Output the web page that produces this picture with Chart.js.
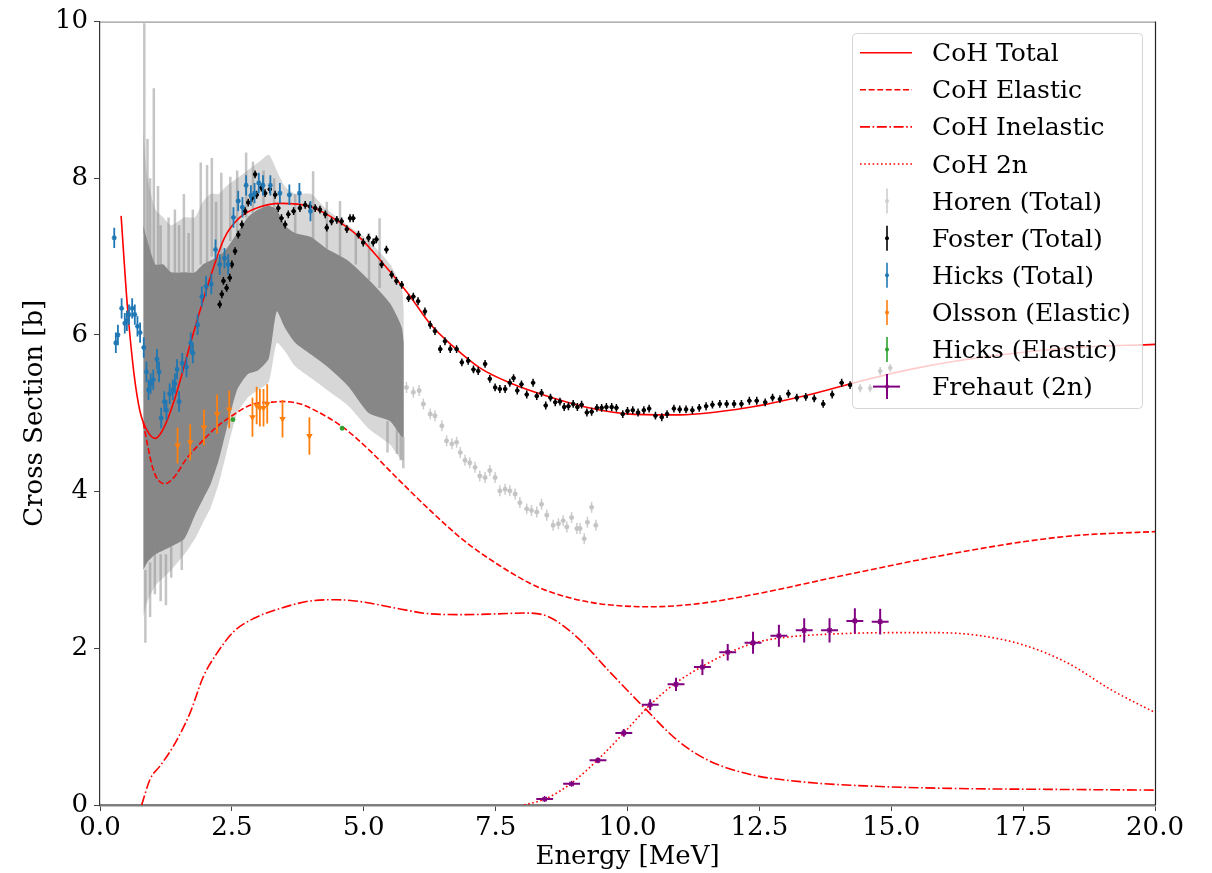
<!DOCTYPE html>
<html>
<head>
<meta charset="utf-8">
<script src="https://cdn.jsdelivr.net/npm/chart.js@4.4.1/dist/chart.umd.min.js"></script>
<style>
html, body { margin: 0; padding: 0; background: #fff; }
#wrap { position: relative; width: 1212px; height: 873px; }
#legend { position: absolute; left: 852px; top: 33px; }
</style>
</head>
<body>
<div id="wrap">
  <canvas id="xsChart"></canvas>
  <svg id="legend" width="291" height="376" xmlns="http://www.w3.org/2000/svg"></svg>
</div>
<script>
// CoH model curves (energy in MeV, cross section in b)
const cohTotalE = [0.40, 0.52, 0.64, 0.76, 0.91, 1.05, 1.2, 1.41, 1.76, 2.06, 2.36, 2.65, 3.01, 3.42, 3.98, 4.52, 4.93, 5.37, 5.85, 6.26, 6.7, 7.2, 7.8, 8.47, 9.2, 10.05, 11.0, 12.26, 13.52, 14.41, 15.5, 17.0, 18.5, 20.0];
const cohTotalXS = [7.52, 6.36, 5.53, 5.02, 4.76, 4.68, 4.80, 5.17, 6.0, 6.67, 7.24, 7.50, 7.63, 7.68, 7.64, 7.45, 7.24, 6.91, 6.52, 6.14, 5.85, 5.58, 5.38, 5.22, 5.08, 4.99, 4.98, 5.07, 5.25, 5.41, 5.58, 5.74, 5.84, 5.88];

const cohElasticE = [0.82, 0.9, 1.0, 1.1, 1.23, 1.4, 1.64, 1.96, 2.2, 2.46, 2.91, 3.2, 3.48, 3.8, 4.04, 4.61, 5.12, 5.62, 6.26, 6.89, 7.52, 8.15, 8.45, 9.27, 10.43, 11.34, 12.49, 13.81, 15.46, 16.5, 17.5, 18.5, 20.0];
const cohElasticXS = [4.88, 4.6, 4.3, 4.15, 4.10, 4.18, 4.42, 4.66, 4.82, 4.95, 5.12, 5.14, 5.15, 5.12, 5.05, 4.82, 4.52, 4.18, 3.76, 3.38, 3.08, 2.83, 2.74, 2.59, 2.53, 2.57, 2.70, 2.89, 3.12, 3.25, 3.36, 3.44, 3.49];

const cohInelE = [0.79, 0.95, 1.14, 1.39, 1.71, 1.96, 2.22, 2.53, 2.91, 3.42, 4.05, 4.49, 5.0, 5.63, 6.27, 6.9, 7.53, 8.04, 8.48, 9.03, 9.69, 10.35, 10.92, 11.5, 12.33, 13.4, 14.64, 16.29, 17.94, 20.0];
const cohInelXS = [0, 0.33, 0.50, 0.75, 1.18, 1.64, 1.94, 2.21, 2.38, 2.51, 2.61, 2.62, 2.59, 2.51, 2.44, 2.43, 2.44, 2.45, 2.41, 2.15, 1.68, 1.22, 0.84, 0.58, 0.39, 0.29, 0.24, 0.21, 0.20, 0.19];

const coh2nE = [8.04, 8.45, 8.94, 9.44, 9.93, 10.43, 10.92, 11.42, 11.91, 12.41, 12.99, 13.81, 15.05, 15.87, 16.70, 17.52, 18.35, 19.17, 20.0];
const coh2nXS = [0, 0.08, 0.28, 0.58, 0.92, 1.28, 1.56, 1.77, 1.94, 2.07, 2.14, 2.18, 2.20, 2.20, 2.16, 2.04, 1.81, 1.47, 1.18];

// Horen (Total): dense part given as a band, plus spikes and the sparse tail
const horenBandE = [0.82, 0.9, 1.05, 1.2, 1.35, 1.6, 1.8, 1.95, 2.1, 2.25, 2.4, 2.6, 2.8, 3.0, 3.2, 3.35, 3.5, 3.7, 4.0, 4.3, 4.7, 5.1, 5.5, 5.72, 5.76];
const horenCoreHi = [7.4, 7.2, 6.9, 6.9, 6.8, 6.8, 6.8, 6.9, 6.95, 7.0, 7.1, 7.3, 7.5, 7.6, 7.65, 7.6, 7.4, 7.3, 7.25, 7.1, 6.95, 6.7, 6.4, 6.1, 5.9];
const horenCoreLo = [3.0, 3.1, 3.2, 3.25, 3.3, 3.4, 3.7, 3.9, 4.1, 4.4, 4.8, 5.3, 5.5, 5.55, 5.7, 6.3, 6.1, 5.9, 5.75, 5.6, 5.35, 5.0, 4.9, 4.7, 4.7];
const horenOuterHi = [8.6, 8.0, 7.6, 7.5, 7.4, 7.5, 7.5, 7.7, 7.8, 7.8, 7.9, 8.0, 8.1, 8.2, 8.3, 8.1, 7.9, 7.8, 7.8, 7.6, 7.4, 7.2, 6.9, 6.6, 6.3];
const horenOuterLo = [2.4, 2.6, 2.8, 2.9, 3.0, 3.2, 3.4, 3.6, 3.8, 4.1, 4.5, 5.0, 5.2, 5.3, 5.4, 5.9, 5.8, 5.6, 5.45, 5.3, 5.1, 4.8, 4.6, 4.4, 4.4];

const horenSpikeE = [0.84, 0.86, 0.9, 0.95, 0.95, 1.02, 1.04, 1.1, 1.15, 1.15, 1.25, 1.3, 1.35, 1.42, 1.5, 1.55, 1.59, 1.68, 1.76, 1.91, 2.03, 2.12, 2.2, 2.3, 2.47, 2.6, 2.77, 2.9, 3.1, 3.3, 3.7, 4.04, 4.3, 4.55, 4.85, 5.1, 5.3, 5.45, 5.63, 5.7, 5.75];
const horenSpikeLo = [7.3, 2.07, 6.8, 6.9, 2.4, 6.8, 2.69, 6.8, 6.8, 2.6, 2.55, 6.8, 2.9, 6.7, 6.8, 3.0, 6.8, 6.8, 6.8, 6.9, 6.9, 7.0, 7.0, 7.0, 7.2, 7.3, 7.5, 7.5, 7.6, 7.5, 7.3, 7.2, 7.1, 7.0, 6.9, 6.7, 6.6, 4.5, 4.48, 4.4, 4.3];
const horenSpikeHi = [9.98, 3.0, 8.5, 8.0, 3.1, 9.15, 3.3, 7.9, 7.4, 3.2, 3.2, 7.5, 3.3, 7.6, 7.4, 3.4, 7.8, 7.3, 7.6, 8.2, 8.17, 8.26, 7.7, 8.07, 8.02, 8.1, 8.33, 8.21, 8.1, 8.0, 7.8, 8.09, 7.7, 7.71, 7.3, 7.3, 7.49, 4.9, 5.0, 5.0, 4.7];

const horenTailE = [5.81, 5.94, 6.05, 6.13, 6.26, 6.35, 6.48, 6.57, 6.67, 6.76, 6.83, 6.92, 7.01, 7.11, 7.20, 7.30, 7.39, 7.49, 7.58, 7.68, 7.77, 7.87, 7.96, 8.09, 8.18, 8.28, 8.37, 8.47, 8.59, 8.69, 8.78, 8.85, 8.94, 9.04, 9.10, 9.18, 9.24, 9.32, 9.40];
const horenTailXS = [5.33, 5.27, 5.29, 5.12, 4.99, 4.97, 4.84, 4.65, 4.61, 4.63, 4.50, 4.40, 4.37, 4.31, 4.20, 4.18, 4.27, 4.18, 4.01, 4.03, 4.01, 3.97, 3.86, 3.78, 3.76, 3.74, 3.84, 3.70, 3.57, 3.59, 3.63, 3.55, 3.67, 3.53, 3.53, 3.40, 3.61, 3.80, 3.57];

// Foster (Total)
const fosterE = [2.27, 2.31, 2.34, 2.40, 2.46, 2.50, 2.56, 2.62, 2.69, 2.75, 2.81, 2.88, 2.94, 2.97, 3.06, 3.13, 3.22, 3.32, 3.38, 3.44, 3.51, 3.57, 3.67, 3.79, 3.89, 3.98, 4.08, 4.17, 4.27, 4.30, 4.39, 4.49, 4.58, 4.68, 4.74, 4.80, 4.90, 4.99, 5.09, 5.18, 5.24, 5.34, 5.43, 5.53, 5.62, 5.72, 5.85, 5.94, 6.03, 6.16, 6.26, 6.35, 6.45, 6.54, 6.64, 6.76, 6.86, 6.98, 7.08, 7.17, 7.30, 7.39, 7.49, 7.58, 7.68, 7.77, 7.84, 7.91, 7.99, 8.09, 8.21, 8.28, 8.37, 8.45, 8.54, 8.63, 8.72, 8.80, 8.88, 8.97, 9.05, 9.13, 9.23, 9.32, 9.42, 9.51, 9.60, 9.70, 9.79, 9.91, 10.00, 10.10, 10.20, 10.31, 10.41, 10.53, 10.65, 10.75, 10.88, 10.99, 11.11, 11.23, 11.36, 11.49, 11.61, 11.75, 11.88, 12.02, 12.16, 12.31, 12.45, 12.61, 12.75, 12.89, 13.05, 13.21, 13.38, 13.54, 13.71, 13.88, 14.06, 14.22, 14.41, 14.60, 14.79, 14.98];
const fosterXS = [6.39, 6.52, 6.69, 6.60, 6.73, 6.90, 7.07, 7.28, 7.41, 7.58, 7.69, 7.75, 8.05, 7.79, 7.88, 7.81, 7.86, 7.79, 7.62, 7.49, 7.41, 7.54, 7.58, 7.62, 7.66, 7.64, 7.62, 7.60, 7.54, 7.37, 7.45, 7.47, 7.45, 7.35, 7.49, 7.49, 7.28, 7.18, 7.24, 7.18, 7.22, 6.90, 7.09, 6.77, 6.69, 6.64, 6.47, 6.49, 6.43, 6.30, 6.13, 6.05, 5.82, 5.92, 5.82, 5.82, 5.65, 5.67, 5.56, 5.54, 5.63, 5.44, 5.33, 5.31, 5.31, 5.39, 5.45, 5.29, 5.37, 5.24, 5.39, 5.22, 5.26, 5.10, 5.20, 5.14, 5.15, 5.08, 5.09, 5.12, 5.08, 5.11, 5.01, 5.02, 5.07, 5.07, 5.08, 5.08, 5.07, 4.99, 5.03, 5.04, 5.01, 5.04, 5.06, 4.97, 4.95, 4.99, 5.06, 5.05, 5.05, 5.04, 5.07, 5.09, 5.11, 5.12, 5.12, 5.12, 5.12, 5.16, 5.16, 5.14, 5.20, 5.18, 5.25, 5.20, 5.21, 5.19, 5.12, 5.24, 5.39, 5.36, 5.32, 5.32, 5.54, 5.58];

// Hicks (Total)
const hicksTotE = [0.27, 0.30, 0.34, 0.41, 0.47, 0.51, 0.55, 0.61, 0.66, 0.71, 0.76, 0.83, 0.88, 0.92, 0.96, 1.01, 1.08, 1.12, 1.16, 1.22, 1.26, 1.32, 1.38, 1.42, 1.46, 1.50, 1.56, 1.64, 1.72, 1.76, 1.85, 1.93, 2.01, 2.11, 2.19, 2.27, 2.36, 2.43, 2.53, 2.62, 2.70, 2.77, 2.86, 2.93, 3.01, 3.09, 3.23, 3.41, 3.59, 3.78, 3.99];
const hicksTotXS = [7.24, 5.90, 6.0, 6.34, 6.15, 6.18, 6.26, 6.34, 6.26, 6.11, 6.03, 5.84, 5.53, 5.30, 5.38, 5.43, 5.69, 5.53, 4.94, 5.15, 5.04, 5.25, 5.30, 5.38, 5.56, 5.15, 5.64, 5.59, 5.90, 5.77, 6.13, 6.49, 6.62, 6.65, 7.09, 6.90, 6.98, 6.90, 7.50, 7.71, 7.63, 7.91, 7.78, 7.81, 7.94, 7.91, 7.91, 7.81, 7.79, 7.81, 7.58];

// Olsson (Elastic)
const olssonE = [1.47, 1.71, 1.97, 2.22, 2.45, 2.89, 2.97, 3.03, 3.10, 3.17, 3.46, 3.97];
const olssonXS = [4.59, 4.63, 4.82, 4.99, 5.05, 4.95, 5.10, 5.07, 5.07, 5.12, 4.93, 4.71];
const olssonErr = [0.23, 0.23, 0.23, 0.25, 0.24, 0.25, 0.24, 0.24, 0.24, 0.25, 0.24, 0.24];

// Hicks (Elastic)
const hicksElE = [2.52, 4.59];
const hicksElXS = [4.92, 4.81];

// Frehaut (2n)
const frehautE = [8.43, 8.94, 9.44, 9.93, 10.43, 10.92, 11.42, 11.90, 12.38, 12.87, 13.35, 13.83, 14.31, 14.79];
const frehautXS = [0.076, 0.27, 0.57, 0.92, 1.28, 1.54, 1.76, 1.95, 2.07, 2.16, 2.23, 2.23, 2.35, 2.34];
const frehautErr = [0.01, 0.02, 0.03, 0.05, 0.07, 0.085, 0.1, 0.105, 0.14, 0.14, 0.155, 0.155, 0.16, 0.165];

const xTickStep = 2.5;
const yTickStep = 2;

const SERIF = "'DejaVu Serif', serif";

// helpers
function pts(xs, ys, ex, ey) {
    return xs.map((x, i) => ({
        x: x,
        y: ys[i],
        ex: Array.isArray(ex) ? ex[i] : ex,
        ey: Array.isArray(ey) ? ey[i] : ey
    }));
}

function curve(label, xs, ys, dash) {
    return {
        label: label,
        data: pts(xs, ys, 0, 0),
        borderColor: '#ff0000',
        borderWidth: 1.6,
        borderDash: dash,
        pointRadius: 0,
        fill: false,
        cubicInterpolationMode: 'monotone'
    };
}

function band(xs, ys, color, fill) {
    return {
        data: pts(xs, ys, 0, 0),
        borderWidth: 0,
        borderColor: 'rgba(0,0,0,0)',
        backgroundColor: color,
        pointRadius: 0,
        fill: fill,
        tension: 0.2
    };
}

function errSeries(label, data, color, errColor, style, radius, errWidth) {
    return {
        label: label,
        data: data,
        showLine: false,
        pointStyle: style,
        pointRadius: radius,
        pointBorderWidth: 1.3,
        pointBorderColor: color,
        pointBackgroundColor: color,
        errorColor: errColor,
        errorWidth: errWidth
    };
}

// error bars drawn through the chart's scales
const errorBars = {
    id: 'errorBars',
    beforeDatasetDraw(chart, args) {
        const ds = chart.data.datasets[args.index];
        if (!ds.errorColor) return;
        const ctx = chart.ctx, a = chart.chartArea;
        const xs = chart.scales.x, ys = chart.scales.y;
        ctx.save();
        ctx.beginPath();
        ctx.rect(a.left, a.top, a.right - a.left, a.bottom - a.top);
        ctx.clip();
        ctx.strokeStyle = ds.errorColor;
        ctx.lineWidth = ds.errorWidth;
        ctx.beginPath();
        ds.data.forEach(p => {
            const px = xs.getPixelForValue(p.x);
            const py = ys.getPixelForValue(p.y);
            if (p.ey) {
                ctx.moveTo(px, ys.getPixelForValue(p.y - p.ey));
                ctx.lineTo(px, ys.getPixelForValue(p.y + p.ey));
            }
            if (p.ex) {
                ctx.moveTo(xs.getPixelForValue(p.x - p.ex), py);
                ctx.lineTo(xs.getPixelForValue(p.x + p.ex), py);
            }
        });
        ctx.stroke();
        ctx.restore();
    }
};

// top and right spines
const frame = {
    id: 'frame',
    afterDraw(chart) {
        const ctx = chart.ctx, a = chart.chartArea;
        ctx.save();
        ctx.lineWidth = 1.2;
        ctx.strokeStyle = '#999';
        ctx.beginPath();
        ctx.moveTo(a.left, a.top + 0.5);
        ctx.lineTo(a.right, a.top + 0.5);
        ctx.stroke();
        ctx.strokeStyle = '#222';
        ctx.beginPath();
        ctx.moveTo(a.right + 0.5, a.top);
        ctx.lineTo(a.right + 0.5, a.bottom);
        ctx.stroke();
        ctx.restore();
    }
};

const spikeMid = horenSpikeLo.map((lo, i) => (lo + horenSpikeHi[i]) / 2);
const spikeHalf = horenSpikeLo.map((lo, i) => (horenSpikeHi[i] - lo) / 2);

const datasets = [
    band(horenBandE, horenOuterLo, 'rgba(0,0,0,0)', false),
    band(horenBandE, horenOuterHi, 'rgba(175,175,175,0.5)', '-1'),
    band(horenBandE, horenCoreLo, 'rgba(0,0,0,0)', false),
    band(horenBandE, horenCoreHi, 'rgba(132,132,132,0.95)', '-1'),
    errSeries('Horen spikes', pts(horenSpikeE, spikeMid, 0, spikeHalf), 'rgba(0,0,0,0)', 'rgba(140,140,140,0.5)', 'circle', 0, 2.5),
    errSeries('Horen (Total)', pts(horenTailE, horenTailXS, 0.04, 0.07), '#c4c4c4', '#cdcdcd', 'star', 2.5, 1.5),
    curve('CoH Total', cohTotalE, cohTotalXS, []),
    curve('CoH Elastic', cohElasticE, cohElasticXS, [6, 2.6]),
    curve('CoH Inelastic', cohInelE, cohInelXS, [10, 2.6, 1.6, 2.6]),
    curve('CoH 2n', coh2nE, coh2nXS, [1.6, 2.6]),
    errSeries('Foster (Total)', pts(fosterE, fosterXS, 0.04, 0.05), '#000', '#000', 'star', 2.2, 1.5),
    errSeries('Hicks (Total)', pts(hicksTotE, hicksTotXS, 0, 0.13), '#1f77b4', '#1f77b4', 'star', 2.5, 1.8),
    errSeries('Olsson (Elastic)', pts(olssonE, olssonXS, 0, olssonErr), '#ff7f0e', '#ff7f0e', 'triangle', 2.5, 1.8),
    errSeries('Hicks (Elastic)', pts(hicksElE, hicksElXS, 0, 0.02), '#2ca02c', '#2ca02c', 'star', 2.5, 1.8),
    errSeries('Frehaut (2n)', pts(frehautE, frehautXS, 0.16, frehautErr), '#800080', '#800080', 'star', 3, 2)
];
datasets.forEach((d, i) => { d.order = datasets.length - i; });
datasets[12].pointRotation = 180;

Chart.defaults.font.family = SERIF;
Chart.defaults.color = '#000';

new Chart(document.getElementById('xsChart').getContext('2d'), {
    type: 'line',
    data: { datasets: datasets },
    options: {
        responsive: true,
        maintainAspectRatio: false,
        animation: false,
        events: [],
        layout: { padding: { left: 0, right: 57, top: 20, bottom: 0 } },
        plugins: {
            legend: { display: false },
            tooltip: { enabled: false }
        },
        scales: {
            x: {
                type: 'linear',
                min: 0,
                max: 20,
                afterFit: s => { s.height = 68; },
                border: { display: true, color: '#7f7f7f', width: 2.5 },
                grid: { drawOnChartArea: false, drawTicks: true, tickLength: 6, color: '#444' },
                ticks: {
                    stepSize: xTickStep,
                    padding: 2,
                    font: { size: 26 },
                    maxRotation: 0,
                    callback: v => v.toFixed(1)
                },
                title: {
                    display: true,
                    text: 'Energy [MeV]',
                    font: { size: 26, lineHeight: 1.2 },
                    padding: { top: 0, bottom: 0 }
                }
            },
            y: {
                min: 0,
                max: 10,
                afterFit: s => { s.width = 100; },
                border: { display: true, color: '#333', width: 1.2 },
                grid: { drawOnChartArea: false, drawTicks: true, tickLength: 6, color: '#444' },
                ticks: {
                    stepSize: yTickStep,
                    padding: 6,
                    font: { size: 26 }
                },
                title: {
                    display: true,
                    text: 'Cross Section [b]',
                    font: { size: 26, lineHeight: 1.2 },
                    padding: { top: 20, bottom: 0 }
                }
            }
        }
    },
    plugins: [errorBars, frame]
});

// legend drawn as an SVG overlay with real text
const legendItems = [
    { label: 'CoH Total', kind: 'line', dash: '' },
    { label: 'CoH Elastic', kind: 'line', dash: '6 2.6' },
    { label: 'CoH Inelastic', kind: 'line', dash: '10 2.6 1.6 2.6' },
    { label: 'CoH 2n', kind: 'line', dash: '1.6 2.6' },
    { label: 'Horen (Total)', kind: 'err', color: '#cfcfcf' },
    { label: 'Foster (Total)', kind: 'err', color: '#000' },
    { label: 'Hicks (Total)', kind: 'err', color: '#1f77b4' },
    { label: 'Olsson (Elastic)', kind: 'err', color: '#ff7f0e' },
    { label: 'Hicks (Elastic)', kind: 'err', color: '#2ca02c' },
    { label: 'Frehaut (2n)', kind: 'cross', color: '#800080' }
];

const svg = document.getElementById('legend');
let html = '<rect x="0.5" y="0.5" width="290" height="375" rx="4" ry="4" fill="rgba(255,255,255,0.8)" stroke="rgba(204,204,204,0.8)" stroke-width="1"/>';
legendItems.forEach((it, i) => {
    const cy = 19.7 + i * 37.1;
    if (it.kind === 'line') {
        html += '<line x1="8" x2="60" y1="' + cy + '" y2="' + cy + '" stroke="#ff0000" stroke-width="1.6"' +
            (it.dash ? ' stroke-dasharray="' + it.dash + '"' : '') + '/>';
    } else {
        const w = it.kind === 'cross' ? 2 : 1.6;
        html += '<line x1="35" x2="35" y1="' + (cy - 12.5) + '" y2="' + (cy + 12.5) + '" stroke="' + it.color + '" stroke-width="' + w + '"/>';
        if (it.kind === 'cross') {
            html += '<line x1="21" x2="48" y1="' + cy + '" y2="' + cy + '" stroke="' + it.color + '" stroke-width="2"/>';
        }
        html += '<circle cx="35" cy="' + cy + '" r="2" fill="' + it.color + '"/>';
    }
    html += '<text x="80" y="' + cy + '" dominant-baseline="central" font-family="DejaVu Serif, serif" font-size="25" fill="#000">' + it.label + '</text>';
});
svg.innerHTML = html;
</script>
</body>
</html>
